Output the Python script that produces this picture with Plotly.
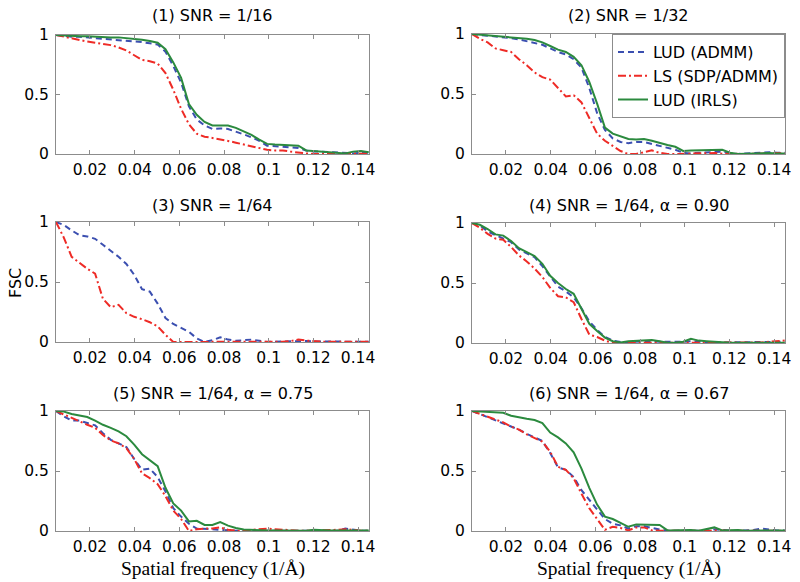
import plotly.graph_objects as go

freq = [0.0048, 0.0083, 0.0118, 0.0153, 0.0188, 0.0223, 0.0258, 0.0293, 0.0328, 0.0363,
        0.0398, 0.0433, 0.0468, 0.0503, 0.0538, 0.0573, 0.0608, 0.0643, 0.0678, 0.0713,
        0.0748, 0.0783, 0.0818, 0.0853, 0.0888, 0.0923, 0.0958, 0.0993, 0.1028, 0.1063,
        0.1098, 0.1133, 0.1168, 0.1203, 0.1238, 0.1273, 0.1308, 0.1343, 0.1378, 0.1413, 0.1448]

titles = ["(1) SNR = 1/16", "(2) SNR = 1/32", "(3) SNR = 1/64",
          "(4) SNR = 1/64, α = 0.90", "(5) SNR = 1/64, α = 0.75", "(6) SNR = 1/64, α = 0.67"]

series_names = ["LUD (ADMM)", "LS (SDP/ADMM)", "LUD (IRLS)"]

# Panel 1
p1_lud_admm = [1.0, 0.99, 0.985, 0.985, 0.98, 0.975, 0.97, 0.965, 0.96, 0.955, 0.95, 0.94, 0.93, 0.92, 0.86, 0.74, 0.60, 0.40, 0.29, 0.24,
               0.21, 0.215, 0.21, 0.19, 0.165, 0.14, 0.11, 0.07, 0.065, 0.06, 0.055, 0.05, 0.03, 0.02, 0.02, 0.015, 0.01, 0.005, 0.005, 0.01, 0.01]
p1_ls = [1.0, 0.985, 0.97, 0.955, 0.945, 0.935, 0.925, 0.915, 0.895, 0.87, 0.83, 0.79, 0.78, 0.76, 0.68, 0.54, 0.38, 0.25, 0.17, 0.145,
         0.135, 0.125, 0.11, 0.095, 0.08, 0.06, 0.045, 0.035, 0.03, 0.03, 0.02, 0.01, 0.005, 0.0, 0.0, 0.002, 0.005, 0.005, 0.005, 0.003, 0.003]
p1_lud_irls = [1.0, 0.995, 0.99, 0.99, 0.99, 0.985, 0.985, 0.98, 0.98, 0.975, 0.97, 0.96, 0.95, 0.935, 0.88, 0.77, 0.64, 0.42, 0.33, 0.27,
               0.24, 0.24, 0.24, 0.22, 0.19, 0.16, 0.12, 0.085, 0.08, 0.075, 0.075, 0.07, 0.03, 0.025, 0.025, 0.02, 0.01, 0.005, 0.02, 0.025, 0.015]

# Panel 2
p2_lud_admm = [1.0, 0.99, 0.985, 0.98, 0.975, 0.965, 0.955, 0.94, 0.925, 0.91, 0.88, 0.85, 0.83, 0.79, 0.72, 0.55, 0.34, 0.2, 0.13, 0.1,
               0.09, 0.1, 0.1, 0.085, 0.065, 0.05, 0.035, 0.01, 0.005, 0.01, 0.015, 0.02, 0.02, 0.005, 0.0, 0.005, 0.01, 0.01, 0.015, 0.01, 0.01]
p2_ls = [1.0, 0.96, 0.93, 0.88, 0.865, 0.85, 0.79, 0.74, 0.68, 0.64, 0.62, 0.55, 0.48, 0.49, 0.43, 0.3, 0.17, 0.11, 0.07, 0.025,
         0.0, 0.0, 0.015, 0.03, 0.01, 0.0, 0.0, 0.002, 0.003, 0.005, 0.005, 0.008, 0.003, 0.0, 0.0, 0.0, 0.002, 0.005, 0.005, 0.008, 0.005]
p2_lud_irls = [1.0, 0.995, 0.99, 0.985, 0.98, 0.975, 0.97, 0.96, 0.95, 0.93, 0.9, 0.87, 0.85, 0.81, 0.74, 0.6, 0.42, 0.22, 0.17, 0.145,
               0.125, 0.12, 0.125, 0.11, 0.09, 0.075, 0.06, 0.025, 0.03, 0.03, 0.03, 0.03, 0.035, 0.01, 0.0, 0.002, 0.005, 0.005, 0.008, 0.005, 0.005]

# Panel 3 (no LUD (IRLS) curve)
p3_lud_admm = [1.0, 0.975, 0.93, 0.89, 0.88, 0.86, 0.81, 0.76, 0.71, 0.65, 0.56, 0.44, 0.42, 0.32, 0.2, 0.15, 0.115, 0.085, 0.03, 0.0,
               0.015, 0.04, 0.02, 0.01, 0.015, 0.02, 0.01, 0.0, 0.003, 0.005, 0.005, 0.008, 0.008, 0.005, 0.003, 0.003, 0.003, 0.003, 0.003, 0.005, 0.003]
p3_ls = [1.0, 0.87, 0.71, 0.66, 0.61, 0.57, 0.36, 0.29, 0.31, 0.24, 0.21, 0.19, 0.165, 0.13, 0.06, 0.0, 0.0, 0.0, 0.0, 0.0,
         0.0, 0.0, 0.0, 0.0, 0.0, 0.0, 0.0, 0.0, 0.0, 0.003, 0.008, 0.02, 0.012, 0.005, 0.003, 0.003, 0.003, 0.003, 0.003, 0.003, 0.003]
p3_lud_irls = None

# Panel 4
p4_lud_admm = [1.0, 0.98, 0.93, 0.9, 0.875, 0.84, 0.78, 0.75, 0.715, 0.64, 0.555, 0.47, 0.43, 0.38, 0.29, 0.18, 0.11, 0.05, 0.02, 0.008,
               0.008, 0.01, 0.01, 0.015, 0.01, 0.008, 0.01, 0.01, 0.015, 0.01, 0.008, 0.005, 0.005, 0.005, 0.005, 0.005, 0.005, 0.008, 0.01, 0.01, 0.01]
p4_ls = [1.0, 0.96, 0.91, 0.87, 0.86, 0.8, 0.73, 0.68, 0.62, 0.55, 0.46, 0.39, 0.38, 0.34, 0.2, 0.07, 0.05, 0.02, 0.0, 0.0,
         0.0, 0.0, 0.003, 0.005, 0.005, 0.003, 0.003, 0.005, 0.005, 0.005, 0.003, 0.002, 0.002, 0.002, 0.002, 0.003, 0.005, 0.005, 0.01, 0.015, 0.02]
p4_lud_irls = [1.0, 0.985, 0.95, 0.905, 0.895, 0.85, 0.79, 0.76, 0.725, 0.66, 0.56, 0.50, 0.45, 0.41, 0.29, 0.16, 0.1, 0.045, 0.015, 0.005,
               0.015, 0.02, 0.02, 0.025, 0.015, 0.003, 0.003, 0.01, 0.035, 0.02, 0.015, 0.01, 0.005, 0.003, 0.002, 0.002, 0.002, 0.002, 0.002, 0.002, 0.002]

# Panel 5
p5_lud_admm = [1.0, 0.955, 0.92, 0.92, 0.9, 0.88, 0.815, 0.76, 0.73, 0.7, 0.6, 0.51, 0.52, 0.45, 0.33, 0.19, 0.12, 0.06, 0.02, 0.02,
               0.015, 0.01, 0.003, 0.002, 0.002, 0.002, 0.003, 0.005, 0.005, 0.003, 0.002, 0.002, 0.003, 0.005, 0.008, 0.005, 0.003, 0.02, 0.01, 0.003, 0.003]
p5_ls = [1.0, 0.97, 0.94, 0.91, 0.885, 0.86, 0.8, 0.755, 0.73, 0.69, 0.6, 0.48, 0.44, 0.39, 0.29, 0.17, 0.1, 0.0, 0.015, 0.02,
         0.02, 0.03, 0.01, 0.003, 0.003, 0.01, 0.015, 0.02, 0.015, 0.01, 0.005, 0.003, 0.003, 0.003, 0.005, 0.008, 0.01, 0.015, 0.01, 0.003, 0.003]
p5_lud_irls = [1.0, 0.995, 0.975, 0.965, 0.95, 0.92, 0.885, 0.86, 0.83, 0.79, 0.72, 0.64, 0.59, 0.54, 0.36, 0.23, 0.17, 0.08, 0.085, 0.05,
               0.05, 0.075, 0.045, 0.025, 0.012, 0.008, 0.005, 0.005, 0.004, 0.003, 0.002, 0.002, 0.003, 0.01, 0.005, 0.005, 0.005, 0.003, 0.003, 0.005, 0.005]

# Panel 6
p6_lud_admm = [1.0, 0.975, 0.95, 0.925, 0.9, 0.87, 0.845, 0.81, 0.78, 0.75, 0.65, 0.53, 0.51, 0.45, 0.34, 0.26, 0.18, 0.1, 0.06, 0.047,
               0.02, 0.04, 0.04, 0.025, 0.012, 0.003, 0.003, 0.005, 0.005, 0.003, 0.003, 0.015, 0.008, 0.003, 0.003, 0.005, 0.008, 0.02, 0.01, 0.005, 0.005]
p6_ls = [1.0, 0.975, 0.955, 0.93, 0.905, 0.87, 0.845, 0.805, 0.775, 0.745, 0.66, 0.535, 0.51, 0.44, 0.31, 0.19, 0.1, 0.01, 0.035, 0.025,
         0.005, 0.03, 0.03, 0.005, 0.002, 0.003, 0.005, 0.005, 0.003, 0.002, 0.002, 0.005, 0.005, 0.002, 0.002, 0.003, 0.005, 0.008, 0.005, 0.003, 0.003]
p6_lud_irls = [1.0, 0.995, 0.99, 0.985, 0.985, 0.96, 0.945, 0.935, 0.925, 0.9, 0.82, 0.78, 0.73, 0.655, 0.52, 0.36, 0.22, 0.12, 0.1, 0.07,
               0.035, 0.055, 0.055, 0.055, 0.05, 0.005, 0.005, 0.01, 0.008, 0.002, 0.015, 0.03, 0.005, 0.008, 0.008, 0.002, 0.002, 0.003, 0.005, 0.005, 0.005]

panels = [
    (p1_lud_admm, p1_ls, p1_lud_irls),
    (p2_lud_admm, p2_ls, p2_lud_irls),
    (p3_lud_admm, p3_ls, p3_lud_irls),
    (p4_lud_admm, p4_ls, p4_lud_irls),
    (p5_lud_admm, p5_ls, p5_lud_irls),
    (p6_lud_admm, p6_ls, p6_lud_irls),
]

x_ticks = [0.02, 0.04, 0.06, 0.08, 0.1, 0.12, 0.14]
x_tick_text = ["0.02", "0.04", "0.06", "0.08", "0.1", "0.12", "0.14"]
y_ticks = [0, 0.5, 1]
y_tick_text = ["0", "0.5", "1"]

W, H = 800, 582
colors = ["#3b4fb0", "#ee2b26", "#2b8a3e"]
dashes = ["6px,4px", "8px,3px,2px,3px", "solid"]

# pixel boxes (left, right, top, bottom)
boxes = [(56, 369, 35, 154), (472, 785, 34, 154),
         (56, 369, 222, 342), (472, 785, 223, 343),
         (56, 369, 411, 531), (472, 785, 411, 531)]
title_y = [15, 15, 205, 205, 393, 393]

FONT = "DejaVu Sans"
fig = go.Figure()
layout = dict(width=W, height=H, margin=dict(l=0, r=0, t=0, b=0, autoexpand=False),
              paper_bgcolor="white", plot_bgcolor="white", showlegend=True)
annotations = []
for i, (vals, box) in enumerate(zip(panels, boxes)):
    k = i + 1
    xa = "x" if k == 1 else f"x{k}"
    ya = "y" if k == 1 else f"y{k}"
    for j, ser in enumerate(vals):
        if ser is None:
            continue
        fig.add_trace(go.Scatter(
            x=freq, y=ser, mode="lines", name=series_names[j],
            line=dict(color=colors[j], width=2, dash=dashes[j]),
            xaxis=xa, yaxis=ya, showlegend=(k == 2), legendrank=j + 1))
    l, r, t, b = box
    axcommon = dict(showgrid=False, zeroline=False, showline=True, linecolor="#8c8c8c",
                    linewidth=1, mirror="ticks", ticks="inside", ticklen=4,
                    tickcolor="#8c8c8c", automargin=False,
                    tickfont=dict(family=FONT, size=15.5, color="black"))
    layout["xaxis" if k == 1 else f"xaxis{k}"] = dict(
        domain=[l / W, r / W], range=[0.0048, 0.1449], anchor=ya,
        tickvals=x_ticks, ticktext=x_tick_text, ticklabelstandoff=1, **axcommon)
    layout["yaxis" if k == 1 else f"yaxis{k}"] = dict(
        domain=[1 - b / H, 1 - t / H], range=[0, 1], anchor=xa,
        tickvals=y_ticks, ticktext=y_tick_text, ticklabelstandoff=3, **axcommon)
    annotations.append(dict(text=titles[i], x=(l + r) / 2 / W, y=1 - title_y[i] / H,
                            xref="paper", yref="paper", showarrow=False,
                            xanchor="center", yanchor="middle",
                            font=dict(family=FONT, size=16, color="black")))

annotations.append(dict(text="FSC", x=15 / W, y=1 - 283 / H, xref="paper", yref="paper",
                        showarrow=False, textangle=-90, xanchor="center", yanchor="middle",
                        font=dict(family=FONT, size=16, color="black")))
for cx in [(56 + 369) / 2, (472 + 785) / 2]:
    annotations.append(dict(text="Spatial frequency (1/Å)", x=cx / W, y=1 - 569 / H,
                            xref="paper", yref="paper", showarrow=False,
                            xanchor="center", yanchor="middle",
                            font=dict(family="Liberation Serif", size=19.5, color="black")))

layout["annotations"] = annotations
layout["legend"] = dict(x=785 / W, y=1 - 34 / H, xanchor="right", yanchor="top",
                        xref="paper", yref="paper",
                        bgcolor="white", bordercolor="#8c8c8c", borderwidth=1,
                        font=dict(family=FONT, size=16, color="black"),
                        itemwidth=30, tracegroupgap=0)
fig.update_layout(**layout)
fig.write_html("out.html", config={"displayModeBar": False},
               post_script="document.body.style.margin='0px';"
                           "document.body.style.overflow='hidden';")
